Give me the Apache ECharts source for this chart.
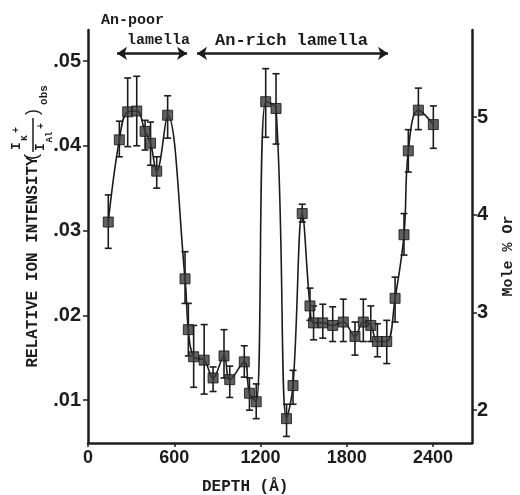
<!DOCTYPE html>
<html>
<head>
<meta charset="utf-8">
<script src="https://cdn.jsdelivr.net/npm/echarts@6/dist/echarts.min.js"></script>
<style>
  html, body { margin: 0; padding: 0; background: #fff; }
  #chart { width: 520px; height: 495px; }
</style>
</head>
<body>
<div id="chart"></div>
<script>
// depth (Å) and relative ion intensity
const depth = [141, 218, 276, 339, 397, 435, 478, 554, 675, 698, 735, 808, 870, 946, 986, 1087, 1123, 1170,
  1236, 1308, 1381, 1426, 1490, 1544, 1569, 1633, 1702, 1776, 1857, 1915, 1967, 2013, 2078, 2136, 2198, 2228, 2298, 2402];
const intensity = [0.0310, 0.0407, 0.0440, 0.0441, 0.0417, 0.0403, 0.0370, 0.0436, 0.0243, 0.0183, 0.0151, 0.0147, 0.0126, 0.0152, 0.0124, 0.0145, 0.0108, 0.0098,
  0.0452, 0.0444, 0.0078, 0.0117, 0.0320, 0.0211, 0.0191, 0.0191, 0.0188, 0.0192, 0.0175, 0.0192, 0.0188, 0.0169, 0.0169, 0.0220, 0.0295, 0.0394, 0.0442, 0.0425];
const errHigh = [0.0342, 0.0429, 0.0480, 0.0482, 0.0430, 0.0428, 0.0387, 0.0459, 0.0275, 0.0214, 0.0188, 0.0189, 0.0139, 0.0183, 0.0140, 0.0164, 0.0126, 0.0119,
  0.0491, 0.0485, 0.0095, 0.0135, 0.0331, 0.0232, 0.0211, 0.0213, 0.0210, 0.0219, 0.0192, 0.0219, 0.0211, 0.0190, 0.0194, 0.0245, 0.0320, 0.0419, 0.0468, 0.0447];
const errLow = [0.0279, 0.0387, 0.0399, 0.0400, 0.0395, 0.0377, 0.0350, 0.0409, 0.0214, 0.0152, 0.0115, 0.0107, 0.0110, 0.0126, 0.0103, 0.0127, 0.0088, 0.0078,
  0.0410, 0.0402, 0.0057, 0.0095, 0.0310, 0.0194, 0.0171, 0.0173, 0.0169, 0.0169, 0.0153, 0.0169, 0.0169, 0.0151, 0.0143, 0.0192, 0.0271, 0.0369, 0.0419, 0.0397];

const xTicks = [0, 600, 1200, 1800, 2400];
const leftTicks = [0.01, 0.02, 0.03, 0.04, 0.05];
const rightTicks = [2, 3, 4, 5];

// lamella ranges (depth) for the arrows on top
const anPoor = [202, 689];
const anRich = [758, 2087];
const arrowLevel = 0.0509;

const ink = '#1c1c1c';
const mono = '"Liberation Mono", "DejaVu Sans Mono", monospace';
const sans = '"Liberation Sans", Arial, sans-serif';

const points = depth.map((d, i) => [d, intensity[i]]);
const bars = depth.map((d, i) => [d, errLow[i], errHigh[i]]);

const chart = echarts.init(document.getElementById('chart'));

function txt(x, y, text, font) {
  return { type: 'text', x, y, style: { text, font, fill: ink, align: 'center', verticalAlign: 'middle' } };
}

const option = {
  backgroundColor: '#fff',
  animation: false,
  grid: { left: 88, right: 48, top: 30, bottom: 52 },
  xAxis: {
    type: 'value', min: 0, max: 2671,
    axisLine: { show: true, lineStyle: { color: ink, width: 2.5 } },
    axisTick: { show: true, customValues: xTicks, length: 4, lineStyle: { color: ink, width: 1.5 } },
    axisLabel: {
      customValues: xTicks, color: ink, fontFamily: sans, fontWeight: 'bold', fontSize: 18, margin: 6,
      formatter: v => String(v)
    },
    splitLine: { show: false }
  },
  yAxis: [{
    type: 'value', position: 'left', min: 0.004926, max: 0.05366,
    axisLine: { show: true, lineStyle: { color: ink, width: 2.5 } },
    axisTick: { show: true, customValues: leftTicks, length: 5, lineStyle: { color: ink, width: 1.5 } },
    axisLabel: {
      customValues: leftTicks, color: ink, fontFamily: sans, fontWeight: 'bold', fontSize: 20, margin: 7,
      formatter: v => v.toFixed(2).replace(/^0/, '')
    },
    splitLine: { show: false }
  }, {
    type: 'value', position: 'right', min: 1.662, max: 5.891,
    axisLine: { show: true, lineStyle: { color: ink, width: 2.5 } },
    axisTick: { show: true, customValues: rightTicks, length: 5, lineStyle: { color: ink, width: 1.5 } },
    axisLabel: { customValues: rightTicks, color: ink, fontFamily: sans, fontWeight: 'bold', fontSize: 20, margin: 5 },
    splitLine: { show: false }
  }],
  series: [{
    type: 'line',
    data: points,
    smooth: 0.4,
    symbol: 'none',
    lineStyle: { color: ink, width: 1.6 },
    z: 2,
    markLine: {
      silent: true,
      symbol: ['arrow', 'arrow'],
      symbolSize: [10, 10],
      label: { show: false },
      lineStyle: { color: ink, width: 2.5, type: 'solid' },
      data: [
        [{ coord: [anPoor[0], arrowLevel] }, { coord: [anPoor[1], arrowLevel] }],
        [{ coord: [anRich[0], arrowLevel] }, { coord: [anRich[1], arrowLevel] }]
      ]
    }
  }, {
    type: 'custom',
    data: bars,
    z: 3,
    renderItem: (params, api) => {
      const x = api.value(0);
      const lo = api.coord([x, api.value(1)]);
      const hi = api.coord([x, api.value(2)]);
      const w = 3.5;
      const style = { stroke: ink, lineWidth: 1.6 };
      return {
        type: 'group',
        children: [
          { type: 'line', shape: { x1: lo[0], y1: lo[1], x2: hi[0], y2: hi[1] }, style },
          { type: 'line', shape: { x1: hi[0] - w, y1: hi[1], x2: hi[0] + w, y2: hi[1] }, style },
          { type: 'line', shape: { x1: lo[0] - w, y1: lo[1], x2: lo[0] + w, y2: lo[1] }, style }
        ]
      };
    }
  }, {
    type: 'scatter',
    data: points,
    symbol: 'rect',
    symbolSize: 10,
    itemStyle: { color: '#3a3a3a', borderColor: '#111', borderWidth: 1 },
    z: 4
  }],
  graphic: [
    { type: 'text', left: 101, top: 13, style: { text: 'An-poor', font: 'bold 15px ' + mono, fill: ink } },
    { type: 'text', left: 127, top: 33, style: { text: 'lamella', font: 'bold 15px ' + mono, fill: ink } },
    { type: 'text', left: 215, top: 32, style: { text: 'An-rich lamella', font: 'bold 17px ' + mono, fill: ink } },
    { type: 'text', left: 202, top: 479, style: { text: 'DEPTH (Å)', font: 'bold 16px ' + mono, fill: ink } },
    {
      type: 'text', x: 33, y: 262, rotation: Math.PI / 2,
      style: { text: 'RELATIVE ION INTENSITY', font: 'bold 16px ' + mono, fill: ink, align: 'center', verticalAlign: 'middle' }
    },
    {
      type: 'text', x: 508, y: 256, rotation: Math.PI / 2,
      style: { text: 'Mole % Or', font: 'bold 15px ' + mono, fill: ink, align: 'center', verticalAlign: 'middle' }
    },
    {
      // (I_K+ / I_Al+)_obs, rotated like the axis title
      type: 'group', x: 33, y: 135, rotation: Math.PI / 2,
      children: [
        txt(-22, -1, '(', '18px ' + sans),
        txt(-11, -16, 'I', 'bold 13px ' + mono),
        txt(-3, -8, 'K', 'bold 9px ' + mono),
        txt(5, -17, '+', 'bold 10px ' + mono),
        { type: 'line', shape: { x1: -17, y1: 0, x2: 17, y2: 0 }, style: { stroke: ink, lineWidth: 1.5 } },
        txt(-12, 8, 'I', 'bold 13px ' + mono),
        txt(-2, 17, 'Al', 'bold 9px ' + mono),
        txt(9, 8, '+', 'bold 10px ' + mono),
        txt(23, 0, ')', '18px ' + sans),
        txt(40, 11, 'obs', 'bold 11px ' + mono)
      ]
    }
  ]
};

chart.setOption(option);
window.addEventListener('resize', () => chart.resize());
</script>
</body>
</html>
